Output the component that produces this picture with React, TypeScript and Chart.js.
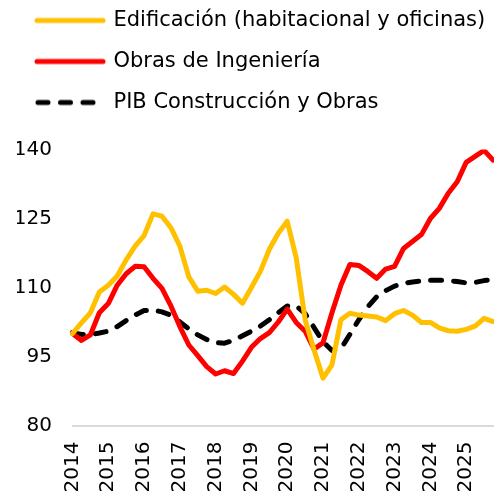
import React, { useEffect, useRef } from "react";
import { Chart, registerables } from "chart.js";

Chart.register(...registerables);

const years = [2014, 2015, 2016, 2017, 2018, 2019, 2020, 2021, 2022, 2023, 2024, 2025];
const quarters = ["T1", "T2", "T3", "T4"];
const categories = years.flatMap((y) => quarters.map((q) => `${y} ${q}`));

const edificacion = [
  100, 102.3, 104.5, 109, 110.5, 112.5, 116, 119, 121.3, 126,
  125.5, 123, 119, 112.3, 109.2, 109.4, 108.7, 110.1, 108.5, 106.6,
  110, 113.5, 118.3, 121.8, 124.4, 116.5, 103, 96.4, 90.3, 93.2,
  103, 104.4, 104, 103.8, 103.6, 102.8, 104.3, 105, 104, 102.4,
  102.4, 101.2, 100.6, 100.5, 100.9, 101.6, 103.3, 102.6,
];

const obras = [
  100, 98.5, 99.7, 104.5, 106.5, 110.5, 113, 114.6, 114.5, 112,
  109.8, 106, 101.5, 97.5, 95.2, 92.8, 91.2, 91.9, 91.3, 94,
  97, 98.9, 100.2, 102.5, 105.3, 102.4, 100.5, 96.6, 98, 104.5,
  110.5, 115, 114.8, 113.5, 112, 114, 114.6, 118.5, 120, 121.5,
  125, 127.2, 130.5, 133, 137.2, 138.5, 139.8, 137.7,
];

const pib = [
  100.2, 99.8, 99.8, 100.1, 100.5, 101.5, 102.8, 104, 105, 105.1,
  104.7, 104, 102.5, 101, 99.7, 98.7, 98, 97.9, 98.5, 99.5,
  100.5, 101.6, 103, 104.5, 106, 106, 104.3, 101.3, 98.2, 96.3,
  96.7, 99.8, 103, 105.8, 108, 109.3, 110.3, 110.9, 111.2, 111.4,
  111.6, 111.6, 111.5, 111.3, 111, 111.1, 111.5, 111.7,
];

const seriesNames = [
  "Edificación (habitacional y oficinas)",
  "Obras de Ingeniería",
  "PIB Construcción y Obras",
];

const yTicks = [80, 95, 110, 125, 140];

const FONT = "'DejaVu Sans', Verdana, sans-serif";

function legendLine(color: string, dashed: boolean): HTMLCanvasElement {
  const c = document.createElement("canvas");
  c.width = 72;
  c.height = 10;
  const ctx = c.getContext("2d")!;
  ctx.strokeStyle = color;
  ctx.lineWidth = 5;
  ctx.lineCap = "round";
  ctx.beginPath();
  if (dashed) {
    ctx.setLineDash([10, 12.5]);
    ctx.moveTo(4, 5);
    ctx.lineTo(61, 5);
  } else {
    ctx.moveTo(3, 5);
    ctx.lineTo(69, 5);
  }
  ctx.stroke();
  return c;
}

export default function App() {
  const ref = useRef<HTMLCanvasElement | null>(null);

  useEffect(() => {
    if (!ref.current) return;
    const legendImgs = [
      legendLine("#FFC000", false),
      legendLine("#FF0000", false),
      legendLine("#000000", true),
    ];
    const legendSize = {
      id: "legendSize",
      afterInit(chart: any) {
        const lg = chart.legend;
        if (lg) {
          const orig = lg.fit.bind(lg);
          lg.fit = function () {
            orig();
            this.height = 159.5;
          };
        }
      },
    };
    const common = {
      borderWidth: 5,
      pointRadius: 0,
      pointHoverRadius: 0,
      tension: 0,
      fill: false,
      borderCapStyle: "round" as const,
      borderJoinStyle: "round" as const,
    };
    const chart = new Chart(ref.current, {
      type: "line",
      data: {
        labels: categories,
        datasets: [
          { ...common, label: seriesNames[0], data: edificacion, borderColor: "#FFC000", backgroundColor: "#FFC000" },
          { ...common, label: seriesNames[1], data: obras, borderColor: "#FF0000", backgroundColor: "#FF0000" },
          { ...common, label: seriesNames[2], data: pib, borderColor: "#000000", backgroundColor: "#000000", borderDash: [11, 12] },
        ],
      },
      options: {
        responsive: false,
        animation: false,
        layout: { padding: { left: 17, right: 1, top: 0, bottom: 0 } },
        plugins: {
          tooltip: { enabled: false },
          legend: {
            position: "top",
            align: "start",
            labels: {
              usePointStyle: true,
              pointStyleWidth: 66,
              padding: 20,
              color: "#000",
              font: { family: FONT, size: 21 },
              generateLabels: (ch: any) =>
                Chart.defaults.plugins.legend.labels
                  .generateLabels(ch)
                  .map((it: any, i: number) => ({ ...it, pointStyle: legendImgs[i] })),
            },
          },
        },
        scales: {
          x: {
            type: "category",
            offset: false,
            grid: { display: false, drawTicks: false },
            border: { display: true, color: "#d9d9d9", width: 2 },
            ticks: {
              autoSkip: false,
              minRotation: 90,
              maxRotation: 90,
              padding: 16,
              color: "#000",
              font: { family: FONT, size: 20 },
              callback: (_v: any, i: number) => (i % 4 === 0 ? categories[i].slice(0, 4) : ""),
            },
            afterFit: (s: any) => {
              s.height = 71.5;
              s.paddingLeft = 0;
              s.paddingRight = 0;
            },
          },
          y: {
            min: 80,
            max: 140,
            grid: { display: false, drawTicks: false },
            border: { display: false },
            afterBuildTicks: (s: any) => {
              s.ticks = yTicks.map((v) => ({ value: v }));
            },
            ticks: {
              padding: 20.5,
              color: "#000",
              font: { family: FONT, size: 20 },
            },
            afterFit: (s: any) => {
              s.width = 55.5;
            },
          },
        },
      },
      plugins: [legendSize],
    });
    return () => chart.destroy();
  }, []);

  return (
    <div style={{ position: "fixed", left: 0, top: 0, width: 494, height: 497, overflow: "hidden", background: "#fff" }}>
      <canvas ref={ref} width={494} height={507} style={{ position: "absolute", left: 0, top: -10, display: "block" }} />
    </div>
  );
}
